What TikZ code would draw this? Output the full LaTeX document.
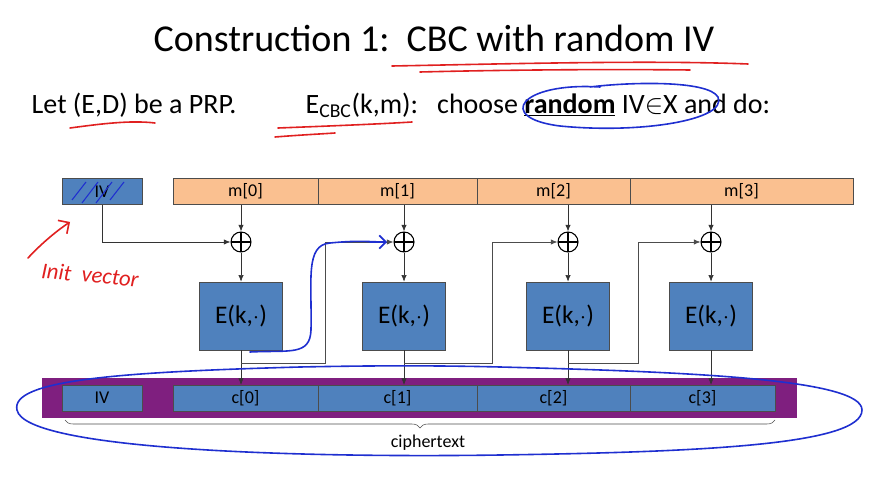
\documentclass[tikz,border=0pt]{standalone}
\usepackage{fontspec}
\setmainfont{Carlito}
\usetikzlibrary{arrows.meta,decorations.pathreplacing,patterns}
\definecolor{bx}{HTML}{4F81BD}
\definecolor{mo}{HTML}{FAC090}
\definecolor{pu}{HTML}{7F1F7F}
\definecolor{hb}{HTML}{1F2FD0}
\definecolor{hr}{HTML}{E02020}
\begin{document}
\begin{tikzpicture}[x=0.75pt,y=-0.75pt,
 cell/.style={draw=black!70,line width=0.5pt,fill=bx,minimum height=19.5pt,inner sep=0pt,font=\fontsize{13.5}{13.5}\selectfont},
 mcell/.style={cell,fill=mo},
 ebox/.style={draw=black!70,fill=bx,minimum width=62pt,minimum height=51pt,font=\fontsize{19}{19}\selectfont},
 xo/.style={circle,draw,thick,minimum size=15pt,inner sep=0pt,path picture={\draw[thick](path picture bounding box.north)--(path picture bounding box.south)(path picture bounding box.west)--(path picture bounding box.east);}},
 ar/.style={-{Latex[length=5pt,width=4pt]},black!80,line width=0.5pt},
 ln/.style={black!70,line width=0.5pt},
 hand/.style={line width=1.2pt,line cap=round}]
\useasboundingbox (0,0) rectangle (870,477);
\node[font=\fontsize{28.5}{28.5}\selectfont] (title) at (434,38) {Construction 1:\ \ CBC with random IV};
\node[anchor=west,font=\fontsize{21}{21}\selectfont] (l1) at (27,105) {Let (E,D) be a PRP.};
\node[anchor=west,font=\fontsize{21}{21}\selectfont] (l2) at (301,105) {E\textsubscript{CBC}(k,m):\ \ \ choose \underline{\textbf{random}} IV$\in$X and do:};
% boxes
\node[cell,minimum width=60pt] (iv) at (102,191.5) {IV};
\draw[hb,thick] (72,200)--(86,182) (82,203)--(98,182) (96,203)--(112,182) (110,200)--(124,182);
\foreach \a/\b/\t/\n in {173/318/m[0]/m0,318/477/m[1]/m1,477/630/m[2]/m2,630/853/m[3]/m3}{
 \node[mcell,minimum width={(\b-\a)*0.75pt}] (\n) at ({(\a+\b)/2},191.5) {\t};}
\fill[pu] (42,378) rectangle (797,418);
\node[cell,minimum width=60pt] (civ) at (102,398) {IV};
\foreach \a/\b/\t/\n in {173/318/c[0]/c0,318/477/c[1]/c1,477/630/c[2]/c2,630/775/c[3]/c3}{
 \node[cell,minimum width={(\b-\a)*0.75pt}] (\n) at ({(\a+\b)/2},398) {\t};}
\foreach \x/\i in {241/0,404/1,568/2,711/3}{
 \node[xo] (x\i) at (\x,242) {};
 \node[ebox] (e\i) at (\x,316) {E(k,$\cdot$)};
 \coordinate (j\i) at (\x,363);
 \draw[ar] (\x,205)--(x\i);
 \draw[ar] (x\i)--(e\i);
 \draw[ar] (e\i.south)--(\x,385);
}
\draw[ar] (iv.south) |- (x0);
\draw[ar,ln] (j0)-|(325,242)--(x1);
\draw[ar,ln] (j1)-|(492,242)--(x2);
\draw[ar,ln] (j2)-|(638,242)--(x3);
\draw[decorate,decoration={brace,mirror,amplitude=6pt},black!70] (65,420)--(775,420);
\node[font=\fontsize{13.5}{13.5}\selectfont] (ct) at (428,443) {ciphertext};
% handwriting
\draw[hr,hand] (392,66) .. controls (500,64) and (650,60) .. (748,64);
\draw[hr,hand] (420,72) .. controls (500,70) and (600,69) .. (690,70);
\draw[hr,hand] (70,128) .. controls (100,124) and (130,120) .. (155,123);
\draw[hr,hand] (278,128) .. controls (330,126) and (380,124) .. (412,122);
\draw[hr,hand] (275,137) .. controls (300,135) and (320,134) .. (335,133);
\draw[hb,hand] (600,87) .. controls (520,82) and (495,118) .. (560,126) .. controls (640,134) and (728,120) .. (718,97) .. controls (708,80) and (630,82) .. (590,87);
\draw[hb,hand] (250,352) .. controls (290,350) and (310,356) .. (311,330) .. controls (312,280) and (305,245) .. (330,243) .. controls (360,240) and (370,242) .. (385,242);
\draw[hb,hand,-{Straight Barb[length=5pt]}] (370,242)--(387,242);
\draw[hb,hand] (300,367) .. controls (120,372) and (10,380) .. (17,410) .. controls (25,450) and (300,458) .. (500,455) .. controls (700,452) and (862,445) .. (862,410) .. controls (862,380) and (700,372) .. (500,367) .. controls (420,365) and (350,366) .. (300,367);
\draw[hr,hand,-{Straight Barb[length=6pt]}] (28,258) .. controls (40,245) and (55,232) .. (70,222);
\node[hr,font=\itshape\fontsize{17}{17}\selectfont,rotate=-5] (iv2) at (90,275) {Init\ \ vector};
\end{tikzpicture}
\end{document}
